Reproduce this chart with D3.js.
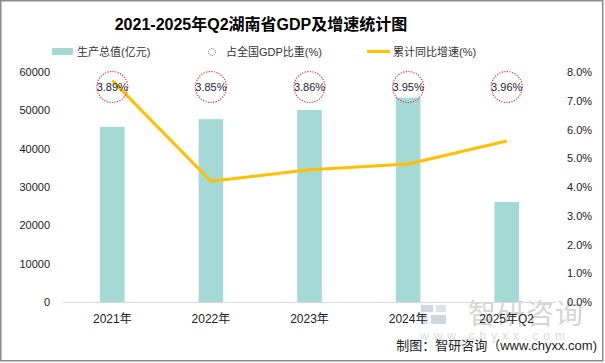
<!DOCTYPE html>
<html>
<head>
<meta charset="utf-8">
<script src="https://cdn.jsdelivr.net/npm/d3@7"></script>
<style>
  body { margin: 0; background: #fff; }
  svg { display: block; font-family: "Liberation Sans", "Noto Sans CJK SC", sans-serif; }
</style>
</head>
<body>
<div id="chart"></div>
<script>
// data
const categories = ["2021年", "2022年", "2023年", "2024年", "2025年Q2"];
const gdpValues = [45700, 47700, 50100, 53300, 26100];      // 生产总值(亿元)
const shareValues = [3.89, 3.85, 3.86, 3.95, 3.96];          // 占全国GDP比重(%)
const growthValues = [7.7, 4.2, 4.6, 4.8, 5.6];              // 累计同比增速(%)
const leftTicks = [0, 10000, 20000, 30000, 40000, 50000, 60000];
const rightTicks = [0, 1, 2, 3, 4, 5, 6, 7, 8];

const dimension = {
    width: 605,
    height: 363,
    plotLeft: 63,
    plotRight: 556,
    plotTop: 72,
    plotBottom: 302
}

const svg = d3.select("#chart").append("svg")
    .attr("width", dimension.width)
    .attr("height", dimension.height);

// outer frame
svg.append("rect")
    .attr("x", 0.75).attr("y", 0.75)
    .attr("width", 602).attr("height", 360)
    .attr("fill", "#fff")
    .attr("stroke", "#8c8c8c")
    .attr("stroke-width", 1.5);

// scales
const xScaler = d3.scaleBand()
    .domain(categories)
    .range([dimension.plotLeft, dimension.plotRight])
    .paddingInner(0.75)
    .paddingOuter(0.375);

const yLeft = d3.scaleLinear()
    .domain([0, 60000])
    .range([dimension.plotBottom, dimension.plotTop]);

const yRight = d3.scaleLinear()
    .domain([0, 8])
    .range([dimension.plotBottom, dimension.plotTop]);

// watermark (behind the marks)
const wm = svg.append("g").attr("opacity", 0.55);
wm.append("rect").attr("x", 421).attr("y", 305).attr("width", 12).attr("height", 7).attr("fill", "#aab6c8");
wm.append("rect").attr("x", 436).attr("y", 305).attr("width", 10).attr("height", 7).attr("fill", "#c3ccd8");
wm.append("rect").attr("x", 421).attr("y", 315).attr("width", 7).attr("height", 9).attr("fill", "#c3ccd8");
wm.append("rect").attr("x", 431).attr("y", 315).attr("width", 15).attr("height", 9).attr("fill", "#aab6c8");
wm.append("text")
    .attr("x", 526).attr("y", 324)
    .attr("text-anchor", "middle")
    .attr("font-size", 28)
    .attr("fill", "#b4b4b4")
    .attr("letter-spacing", 1)
    .text("智研咨询");
wm.append("text")
    .attr("x", 420).attr("y", 340)
    .attr("font-size", 12)
    .attr("fill", "#c0c0c0")
    .attr("textLength", 145)
    .attr("lengthAdjust", "spacing")
    .text("www.chyxx.com");

// title
svg.append("text")
    .attr("x", 261).attr("y", 30)
    .attr("text-anchor", "middle")
    .attr("font-size", 16)
    .attr("font-weight", "bold")
    .attr("fill", "#000")
    .text("2021-2025年Q2湖南省GDP及增速统计图");

// legend
const legend = svg.append("g").attr("font-size", 11).attr("fill", "#333");
legend.append("rect").attr("x", 52).attr("y", 48).attr("width", 21).attr("height", 7).attr("fill", "#a5d9d6");
legend.append("text").attr("x", 77).attr("y", 56).text("生产总值(亿元)");
legend.append("circle").attr("cx", 212).attr("cy", 52).attr("r", 3.5)
    .attr("fill", "none").attr("stroke", "#e0303a").attr("stroke-width", 1).attr("stroke-dasharray", "1,1.2");
legend.append("text").attr("x", 226).attr("y", 56).text("占全国GDP比重(%)");
legend.append("line").attr("x1", 367).attr("x2", 390).attr("y1", 51.5).attr("y2", 51.5)
    .attr("stroke", "#ffc000").attr("stroke-width", 3);
legend.append("text").attr("x", 393).attr("y", 56).text("累计同比增速(%)");

// axes
const leftAxis = d3.axisLeft(yLeft).tickValues(leftTicks).tickSize(0).tickPadding(0)
    .tickFormat(d3.format("d"));
const rightAxis = d3.axisRight(yRight).tickValues(rightTicks).tickSize(0).tickPadding(0)
    .tickFormat(d => d.toFixed(1) + "%");
const bottomAxis = d3.axisBottom(xScaler).tickSize(0).tickPadding(0);

const gl = svg.append("g").attr("transform", "translate(50,0)").call(leftAxis);
const gr = svg.append("g").attr("transform", "translate(567,0)").call(rightAxis);
const gb = svg.append("g").attr("transform", `translate(0,${dimension.plotBottom})`).call(bottomAxis);

[gl, gr, gb].forEach(g => {
    g.select(".domain").remove();
    g.selectAll("text")
        .attr("font-family", "\"Liberation Sans\", \"Noto Sans CJK SC\", sans-serif")
        .attr("fill", "#222");
});
gl.selectAll("text").attr("font-size", 11);
gr.selectAll("text").attr("font-size", 11);
gb.selectAll("text").attr("font-size", 12).attr("dy", "1.75em");

// baseline
svg.append("line")
    .attr("x1", dimension.plotLeft).attr("x2", dimension.plotRight)
    .attr("y1", dimension.plotBottom + 0.5).attr("y2", dimension.plotBottom + 0.5)
    .attr("stroke", "#d9d9d9").attr("stroke-width", 1);

// bars
svg.append("g").selectAll("rect")
    .data(gdpValues)
    .join("rect")
    .attr("x", (d, i) => xScaler(categories[i]))
    .attr("y", d => yLeft(d))
    .attr("width", xScaler.bandwidth())
    .attr("height", d => yLeft(0) - yLeft(d))
    .attr("fill", "#a5d9d6");

// growth line
const lineGen = d3.line()
    .x((d, i) => xScaler(categories[i]) + xScaler.bandwidth() / 2)
    .y(d => yRight(d));

svg.append("path")
    .datum(growthValues)
    .attr("d", lineGen)
    .attr("fill", "none")
    .attr("stroke", "#ffc000")
    .attr("stroke-width", 3)
    .attr("stroke-linejoin", "round");

// share bubbles with labels
const share = svg.append("g");
share.selectAll("circle")
    .data(shareValues)
    .join("circle")
    .attr("cx", (d, i) => xScaler(categories[i]) + xScaler.bandwidth() / 2)
    .attr("cy", 87)
    .attr("r", 15.5)
    .attr("fill", "none")
    .attr("stroke", "#e0303a")
    .attr("stroke-width", 1.2)
    .attr("stroke-dasharray", "1.2,1.4");
share.selectAll("text")
    .data(shareValues)
    .join("text")
    .attr("x", (d, i) => xScaler(categories[i]) + xScaler.bandwidth() / 2)
    .attr("y", 91)
    .attr("text-anchor", "middle")
    .attr("font-size", 11)
    .attr("fill", "#1a2233")
    .text(d => d.toFixed(2) + "%");

// source
svg.append("text")
    .attr("x", 597).attr("y", 350)
    .attr("text-anchor", "end")
    .attr("font-size", 13)
    .attr("fill", "#222")
    .text("制图：智研咨询（www.chyxx.com)");
</script>
</body>
</html>
